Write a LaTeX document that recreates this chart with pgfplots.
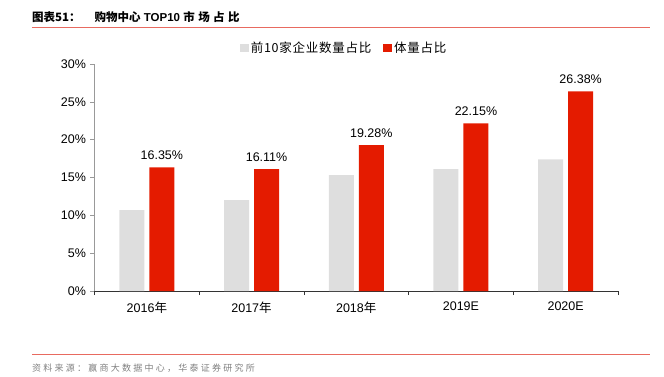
\documentclass[border=0pt]{standalone}
\usepackage{pgfplots}
\pgfplotsset{compat=1.18}
\usepackage{fontspec}
\setmainfont{Liberation Sans}
\newfontfamily\cjk{Noto Sans CJK SC}
\newfontfamily\cjkleg[LetterSpace=6]{Noto Sans CJK SC}
\newfontfamily\cjkwide[LetterSpace=30]{Noto Sans CJK SC}
\newfontfamily\cjksrc[LetterSpace=25]{Noto Sans CJK SC}
\definecolor{barGray}{HTML}{DEDEDE}
\definecolor{barRed}{HTML}{E41B00}
\definecolor{lineRed}{HTML}{E86A60}
\definecolor{axGray}{HTML}{999999}
\definecolor{srcGray}{HTML}{808080}

\pgfplotstableread{
x gray red
0 10.7 16.35
1 12.0 16.11
2 15.3 19.28
3 16.1 22.15
4 17.4 26.38
}\datatab

\begin{document}
\begin{tikzpicture}[x=1pt,y=1pt]
\begin{axis}[
  at={(94.5pt,85pt)}, anchor=south west,
  scale only axis, width=523.5pt, height=227pt,
  xmin=-0.5, xmax=4.5, ymin=0, ymax=30,
  axis x line*=bottom, axis y line*=left,
  x axis line style={black!80, line width=0.8pt, -},
  y axis line style={axGray, line width=0.8pt, -},
  xtick={0,1,2,3,4},
  xticklabels={2016{\cjk 年},2017{\cjk 年},2018{\cjk 年},2019E,2020E},
  major x tick style={draw=none},
  minor xtick={-0.5,0.5,1.5,2.5,3.5,4.5},
  minor x tick style={black!80, line width=0.6pt},
  minor tick length=4pt,
  xtick pos=bottom,
  ytick={0,5,10,15,20,25,30},
  yticklabels={0\%,5\%,10\%,15\%,20\%,25\%,30\%},
  ytick pos=left,
  y tick style={axGray, line width=0.6pt},
  major tick length=4pt,
  tick align=outside,
  tick label style={font=\fontsize{12.5}{15}\selectfont},
  /pgf/number format/assume math mode=true,
  xticklabel style={yshift=-3pt},
  yticklabel style={xshift=-1pt},
  ybar, bar width=25pt,
  legend style={at={(0.477,1.07)}, anchor=center, draw=none, fill=none,
    font=\fontsize{12.5}{15}\selectfont\cjkleg, legend columns=2,
    /tikz/every even column/.append style={column sep=10pt}},
  legend image code/.code={\fill[#1] (0pt,-4.3pt) rectangle (8.8pt,4.3pt);},
  clip=false,
]
\addplot[draw=none, fill=barGray, bar shift=-15pt] table[x=x, y=gray] {\datatab};
\addlegendentry{前10家企业数量占比}
\addplot[draw=none, fill=barRed, bar shift=15pt,
  nodes near coords={\pgfmathprintnumber[fixed,fixed zerofill,precision=2]{\pgfplotspointmeta}\%},
  nodes near coords style={font=\fontsize{12.5}{15}\selectfont, black, yshift=4pt}
  ] table[x=x, y=red] {\datatab};
\addlegendentry{体量占比}
\end{axis}
\node[anchor=west, font=\fontsize{11.5}{13}\selectfont\bfseries, inner sep=0pt] at (32,359) {{\cjk 图表51：}\hspace{14pt}{\cjk 购物中心} TOP10 {\cjkwide 市场占比}};
\draw[lineRed, line width=1pt] (32,349) -- (650,349);
\draw[lineRed, line width=1pt] (32,22) -- (650,22);
\node[anchor=west, font=\fontsize{9}{11}\selectfont\cjksrc, text=srcGray, inner sep=0pt] at (32,8) {资料来源：赢商大数据中心，华泰证券研究所};
\pgfresetboundingbox
\path (0,0) rectangle (664,376);
\end{tikzpicture}
\end{document}
